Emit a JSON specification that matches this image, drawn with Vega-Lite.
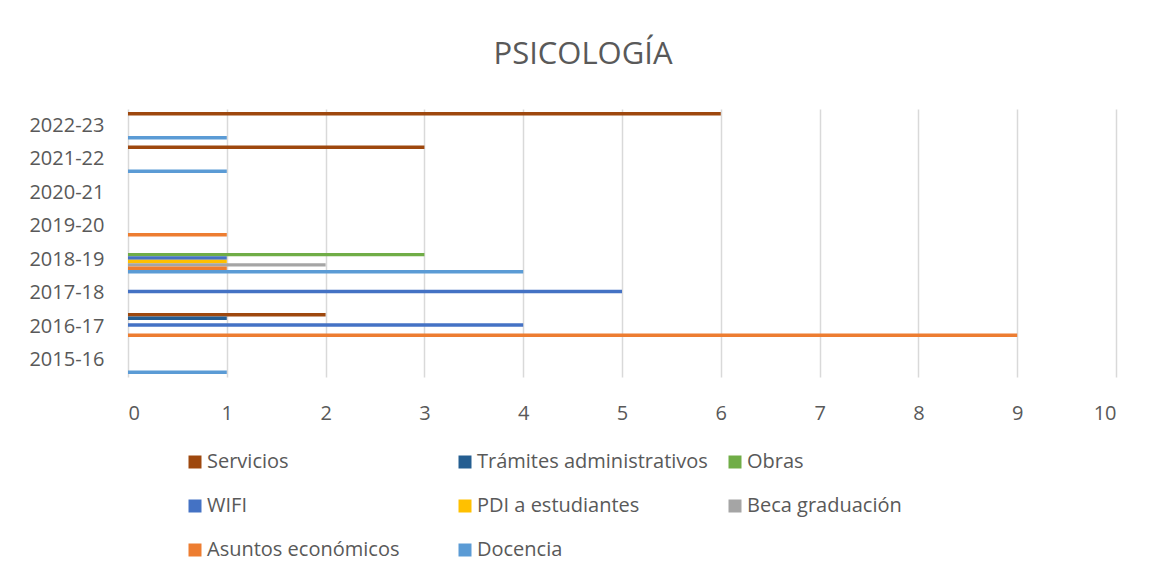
{
  "$schema": "https://vega.github.io/schema/vega-lite/v6.json",
  "width": 988,
  "height": 268,
  "autosize": {"type": "none"},
  "padding": {"left": 128, "top": 109, "right": 34, "bottom": 202},
  "background": "white",
  "title": {
    "text": "PSICOLOGÍA",
    "anchor": "middle",
    "frame": "group",
    "dx": -39,
    "offset": 14,
    "baseline": "alphabetic",
    "font": "Open Sans",
    "fontSize": 31,
    "fontWeight": "normal",
    "color": "#595959"
  },
  "config": {"view": {"stroke": null}},
  "data": {
    "values": [
      {"curso": "2022-23", "serie": "Servicios", "valor": 6},
      {"curso": "2022-23", "serie": "Docencia", "valor": 1},
      {"curso": "2021-22", "serie": "Servicios", "valor": 3},
      {"curso": "2021-22", "serie": "Docencia", "valor": 1},
      {"curso": "2019-20", "serie": "Asuntos económicos", "valor": 1},
      {"curso": "2018-19", "serie": "Obras", "valor": 3},
      {"curso": "2018-19", "serie": "WIFI", "valor": 1},
      {"curso": "2018-19", "serie": "PDI a estudiantes", "valor": 1},
      {"curso": "2018-19", "serie": "Beca graduación", "valor": 2},
      {"curso": "2018-19", "serie": "Asuntos económicos", "valor": 1},
      {"curso": "2018-19", "serie": "Docencia", "valor": 4},
      {"curso": "2017-18", "serie": "WIFI", "valor": 5},
      {"curso": "2016-17", "serie": "Servicios", "valor": 2},
      {"curso": "2016-17", "serie": "Trámites administrativos", "valor": 1},
      {"curso": "2016-17", "serie": "WIFI", "valor": 4},
      {"curso": "2016-17", "serie": "Asuntos económicos", "valor": 9},
      {"curso": "2015-16", "serie": "Docencia", "valor": 1}
    ]
  },
  "mark": {"type": "bar"},
  "encoding": {
    "y": {
      "field": "curso",
      "type": "nominal",
      "scale": {
        "domain": ["2022-23", "2021-22", "2020-21", "2019-20", "2018-19", "2017-18", "2016-17", "2015-16"],
        "paddingInner": 0.185,
        "paddingOuter": 0.0925
      },
      "axis": {
        "title": null,
        "domain": false,
        "ticks": false,
        "grid": false,
        "labelPadding": 24,
        "labelFont": "Open Sans",
        "labelFontSize": 20,
        "labelColor": "#595959"
      }
    },
    "yOffset": {
      "field": "serie",
      "type": "nominal",
      "scale": {
        "domain": ["Servicios", "Trámites administrativos", "Obras", "WIFI", "PDI a estudiantes", "Beca graduación", "Asuntos económicos", "Docencia"],
        "paddingInner": 0,
        "paddingOuter": 0
      }
    },
    "x": {
      "field": "valor",
      "type": "quantitative",
      "scale": {"domain": [0, 10], "nice": false},
      "axis": {
        "title": null,
        "values": [0, 1, 2, 3, 4, 5, 6, 7, 8, 9, 10],
        "domain": false,
        "ticks": false,
        "grid": true,
        "gridColor": "#D9D9D9",
        "gridWidth": 1.5,
        "labelPadding": 26,
        "labelFont": "Open Sans",
        "labelFontSize": 20,
        "labelColor": "#595959"
      }
    },
    "color": {
      "field": "serie",
      "type": "nominal",
      "scale": {
        "domain": ["Servicios", "Trámites administrativos", "Obras", "WIFI", "PDI a estudiantes", "Beca graduación", "Asuntos económicos", "Docencia"],
        "range": ["#9E480E", "#255E91", "#70AD47", "#4472C4", "#FFC000", "#A5A5A5", "#ED7D31", "#5B9BD5"]
      },
      "legend": {
        "title": null,
        "orient": "none",
        "direction": "horizontal",
        "legendX": 57,
        "legendY": 343,
        "columns": 3,
        "gridAlign": "all",
        "columnPadding": 17,
        "rowPadding": 24,
        "padding": 0,
        "symbolType": "square",
        "symbolSize": 169,
        "symbolStrokeWidth": 0,
        "labelFont": "Open Sans",
        "labelFontSize": 20,
        "labelColor": "#595959",
        "labelOffset": 2,
        "labelLimit": 400
      }
    }
  }
}
